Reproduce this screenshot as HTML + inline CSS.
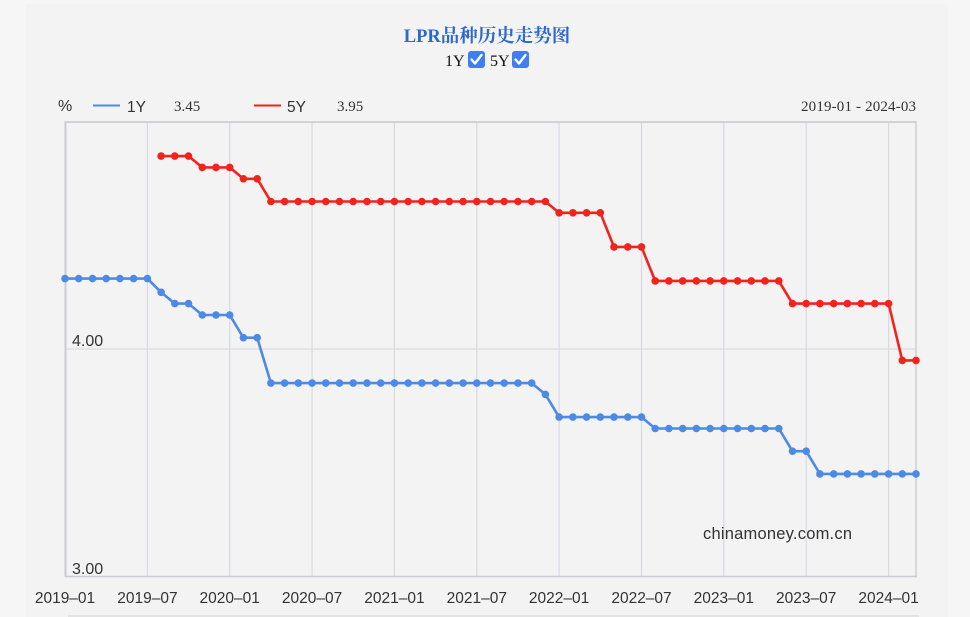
<!DOCTYPE html>
<html><head><meta charset="utf-8"><style>
html,body{margin:0;padding:0;background:#f6f6f6;}
body{width:970px;height:617px;overflow:hidden;position:relative;}
svg{position:absolute;left:0;top:0;}
</style></head><body>
<svg width="970" height="617" viewBox="0 0 970 617" xmlns="http://www.w3.org/2000/svg">
<defs>
<marker id="mb" markerWidth="10" markerHeight="10" refX="5" refY="5" markerUnits="userSpaceOnUse"><circle cx="5" cy="5" r="3.8" fill="#4d8ae6"/></marker>
<marker id="mr" markerWidth="10" markerHeight="10" refX="5" refY="5" markerUnits="userSpaceOnUse"><circle cx="5" cy="5" r="3.8" fill="#f0241c"/></marker>
</defs>
<rect x="26" y="4" width="922" height="613" fill="#f3f3f3"/>
<line x1="68" y1="616" x2="919" y2="616" stroke="#dedede" stroke-width="1.5"/>
<!-- title -->
<text x="487" y="42" text-anchor="middle" font-family="'Liberation Serif','Noto Serif CJK SC',serif" font-weight="bold" font-size="18.5" fill="#2f68cc">LPR品种历史走势图</text>
<text x="445" y="66" font-family="'Liberation Serif',serif" font-size="16" fill="#111">1Y</text>
<rect x="468" y="51" width="17" height="17" rx="3" fill="#3d7ff0"/>
<path d="M471.5 59.5 L475 63.5 L481.5 55" stroke="#fff" stroke-width="2.4" fill="none" stroke-linecap="round" stroke-linejoin="round"/>
<text x="490" y="66" font-family="'Liberation Serif',serif" font-size="16" fill="#111">5Y</text>
<rect x="512" y="51" width="17" height="17" rx="3" fill="#3d7ff0"/>
<path d="M515.5 59.5 L519 63.5 L525.5 55" stroke="#fff" stroke-width="2.4" fill="none" stroke-linecap="round" stroke-linejoin="round"/>
<!-- legend -->
<text x="58" y="111" font-family="'Liberation Sans',sans-serif" font-size="16" fill="#333">%</text>
<line x1="93" y1="105.5" x2="120" y2="105.5" stroke="#4d8ae6" stroke-width="2"/>
<text x="127" y="112" font-family="'Liberation Sans',sans-serif" font-size="15.5" fill="#333">1Y</text>
<text x="174" y="111" font-family="'Liberation Serif',serif" font-size="15" fill="#333">3.45</text>
<line x1="254" y1="105.5" x2="281" y2="105.5" stroke="#f0241c" stroke-width="2"/>
<text x="287" y="112" font-family="'Liberation Sans',sans-serif" font-size="15.5" fill="#333">5Y</text>
<text x="337" y="111" font-family="'Liberation Serif',serif" font-size="15" fill="#333">3.95</text>
<text x="801" y="111" textLength="115" font-family="'Liberation Serif',serif" font-size="15" fill="#333">2019-01 - 2024-03</text>
<!-- plot area -->
<rect x="65" y="122" width="851" height="454" fill="#f3f3f3"/>
<g stroke="#d9d9e2" stroke-width="1.2">
<line x1="147.4" y1="122" x2="147.4" y2="576"/>
<line x1="229.7" y1="122" x2="229.7" y2="576"/>
<line x1="312.1" y1="122" x2="312.1" y2="576"/>
<line x1="394.4" y1="122" x2="394.4" y2="576"/>
<line x1="476.8" y1="122" x2="476.8" y2="576"/>
<line x1="559.1" y1="122" x2="559.1" y2="576"/>
<line x1="641.5" y1="122" x2="641.5" y2="576"/>
<line x1="723.8" y1="122" x2="723.8" y2="576"/>
<line x1="806.2" y1="122" x2="806.2" y2="576"/>
<line x1="888.6" y1="122" x2="888.6" y2="576"/>
<line x1="65" y1="349" x2="916" y2="349"/>
</g>
<line x1="65" y1="122" x2="916" y2="122" stroke="#d2d2d8" stroke-width="2"/>
<line x1="65.5" y1="121" x2="65.5" y2="577" stroke="#cbcbd2" stroke-width="2"/>
<line x1="916" y1="121" x2="916" y2="577" stroke="#cfcfd6" stroke-width="1.5"/>
<line x1="65" y1="576.5" x2="917" y2="576.5" stroke="#cbcbd2" stroke-width="1.5"/>
<text x="72" y="346" font-family="'Liberation Sans',sans-serif" font-size="16" fill="#333">4.00</text>
<text x="72" y="574" font-family="'Liberation Sans',sans-serif" font-size="16" fill="#333">3.00</text>
<text x="703" y="539" textLength="149" font-family="'Liberation Sans',sans-serif" font-size="16.5" fill="#333">chinamoney.com.cn</text>
<!-- 5Y -->
<polyline fill="none" stroke="#f0241c" stroke-width="2.6" stroke-linejoin="round" marker-start="url(#mr)" marker-mid="url(#mr)" marker-end="url(#mr)" points="161.1,156.1 174.8,156.1 188.5,156.1 202.3,167.4 216.0,167.4 229.7,167.4 243.4,178.8 257.2,178.8 270.9,201.5 284.6,201.5 298.3,201.5 312.1,201.5 325.8,201.5 339.5,201.5 353.2,201.5 367.0,201.5 380.7,201.5 394.4,201.5 408.2,201.5 421.9,201.5 435.6,201.5 449.3,201.5 463.1,201.5 476.8,201.5 490.5,201.5 504.2,201.5 518.0,201.5 531.7,201.5 545.4,201.5 559.1,212.8 572.9,212.8 586.6,212.8 600.3,212.8 614.0,246.9 627.8,246.9 641.5,246.9 655.2,280.9 668.9,280.9 682.7,280.9 696.4,280.9 710.1,280.9 723.8,280.9 737.6,280.9 751.3,280.9 765.0,280.9 778.8,280.9 792.5,303.6 806.2,303.6 819.9,303.6 833.7,303.6 847.4,303.6 861.1,303.6 874.8,303.6 888.6,303.6 902.3,360.4 916.0,360.4"/>
<!-- 1Y -->
<polyline fill="none" stroke="#4d8ae6" stroke-width="2.6" stroke-linejoin="round" marker-start="url(#mb)" marker-mid="url(#mb)" marker-end="url(#mb)" points="65.0,278.6 78.7,278.6 92.5,278.6 106.2,278.6 119.9,278.6 133.6,278.6 147.4,278.6 161.1,292.3 174.8,303.6 188.5,303.6 202.3,315.0 216.0,315.0 229.7,315.0 243.4,337.7 257.2,337.7 270.9,383.1 284.6,383.1 298.3,383.1 312.1,383.1 325.8,383.1 339.5,383.1 353.2,383.1 367.0,383.1 380.7,383.1 394.4,383.1 408.2,383.1 421.9,383.1 435.6,383.1 449.3,383.1 463.1,383.1 476.8,383.1 490.5,383.1 504.2,383.1 518.0,383.1 531.7,383.1 545.4,394.4 559.1,417.1 572.9,417.1 586.6,417.1 600.3,417.1 614.0,417.1 627.8,417.1 641.5,417.1 655.2,428.5 668.9,428.5 682.7,428.5 696.4,428.5 710.1,428.5 723.8,428.5 737.6,428.5 751.3,428.5 765.0,428.5 778.8,428.5 792.5,451.2 806.2,451.2 819.9,473.9 833.7,473.9 847.4,473.9 861.1,473.9 874.8,473.9 888.6,473.9 902.3,473.9 916.0,473.9"/>
<!-- x labels -->
<g font-family="'Liberation Sans',sans-serif" font-size="15.5" fill="#333" text-anchor="middle">
<text x="65" y="603">2019–01</text>
<text x="147.4" y="603">2019–07</text>
<text x="229.7" y="603">2020–01</text>
<text x="312.1" y="603">2020–07</text>
<text x="394.4" y="603">2021–01</text>
<text x="476.8" y="603">2021–07</text>
<text x="559.1" y="603">2022–01</text>
<text x="641.5" y="603">2022–07</text>
<text x="723.8" y="603">2023–01</text>
<text x="806.2" y="603">2023–07</text>
<text x="888.6" y="603">2024–01</text>
</g>
</svg>
</body></html>
